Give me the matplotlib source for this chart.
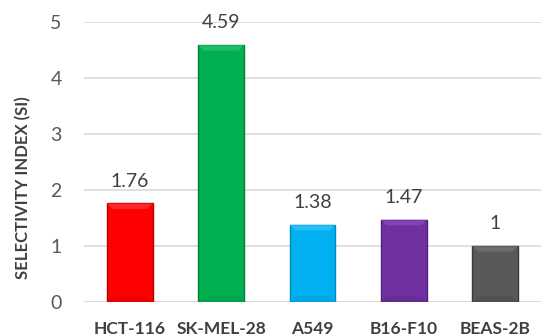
import matplotlib.pyplot as plt
from matplotlib.patches import Polygon

plt.rcParams['font.family'] = ['Lato', 'DejaVu Sans']

lineas = ['HCT-116', 'SK-MEL-28', 'A549', 'B16-F10', 'BEAS-2B']
si = [1.76, 4.59, 1.38, 1.47, 1]
etiquetas = ['1.76', '4.59', '1.38', '1.47', '1']
cores = ['#FF0000', '#00B050', '#00B0F0', '#7030A0', '#595959']
bordas = ['#C00000', '#00803A', '#0088C0', '#50207A', '#3A3A3A']
claros = ['#FF4040', '#30C878', '#40C8FF', '#9050C0', '#7A7A7A']
escuros = ['#E00000', '#009A45', '#009CD8', '#602890', '#4A4A4A']

fig = plt.figure(figsize=(5.41, 3.36), dpi=100)
ax = fig.add_axes([0.1553, 0.1012, 0.8447, 0.8333])

barras = ax.bar(range(len(lineas)), si, width=0.5, color=cores,
                edgecolor=bordas, linewidth=1, zorder=3)

# chanfro: topo mais claro, base mais escura
for b, c, e in zip(barras, claros, escuros):
    x0, y0 = b.get_x(), b.get_y()
    w, h = b.get_width(), b.get_height()
    d = 0.06
    dy = 0.1
    ax.add_patch(Polygon([(x0, y0 + h), (x0 + w, y0 + h),
                          (x0 + w - d, y0 + h - dy), (x0 + d, y0 + h - dy)],
                         facecolor=c, edgecolor='none', alpha=0.6, zorder=4))
    ax.add_patch(Polygon([(x0, y0), (x0 + w, y0),
                          (x0 + w - d, y0 + dy), (x0 + d, y0 + dy)],
                         facecolor=e, edgecolor='none', alpha=0.5, zorder=4))

for i, (v, t) in enumerate(zip(si, etiquetas)):
    ax.text(i, v + 0.3, t, ha='center', va='baseline', fontsize=14,
            color='#404040', clip_on=False, zorder=5)

ax.set_xlim(-0.5, 4.5)
ax.set_ylim(0, 5)
ax.set_yticks(range(6))
ax.yaxis.grid(True, color='#D9D9D9', linewidth=1.2, zorder=0)
for s in ax.spines.values():
    s.set_visible(False)
ax.axhline(0, color='#D9D9D9', linewidth=1.2, zorder=2)
ax.tick_params(axis='both', length=0)
ax.tick_params(axis='y', labelsize=14, labelcolor='#595959', pad=16)
ax.set_xticks(range(len(lineas)))
ax.set_xticklabels(lineas, fontsize=12.5, fontweight='bold', color='#404040')
ax.tick_params(axis='x', pad=14)
ax.set_ylabel('SELECTIVITY INDEX (SI)', fontsize=12, fontweight='bold',
              color='#404040')
ax.yaxis.set_label_coords(-0.115, 0.41)

fig.savefig('out.png', dpi=100)
